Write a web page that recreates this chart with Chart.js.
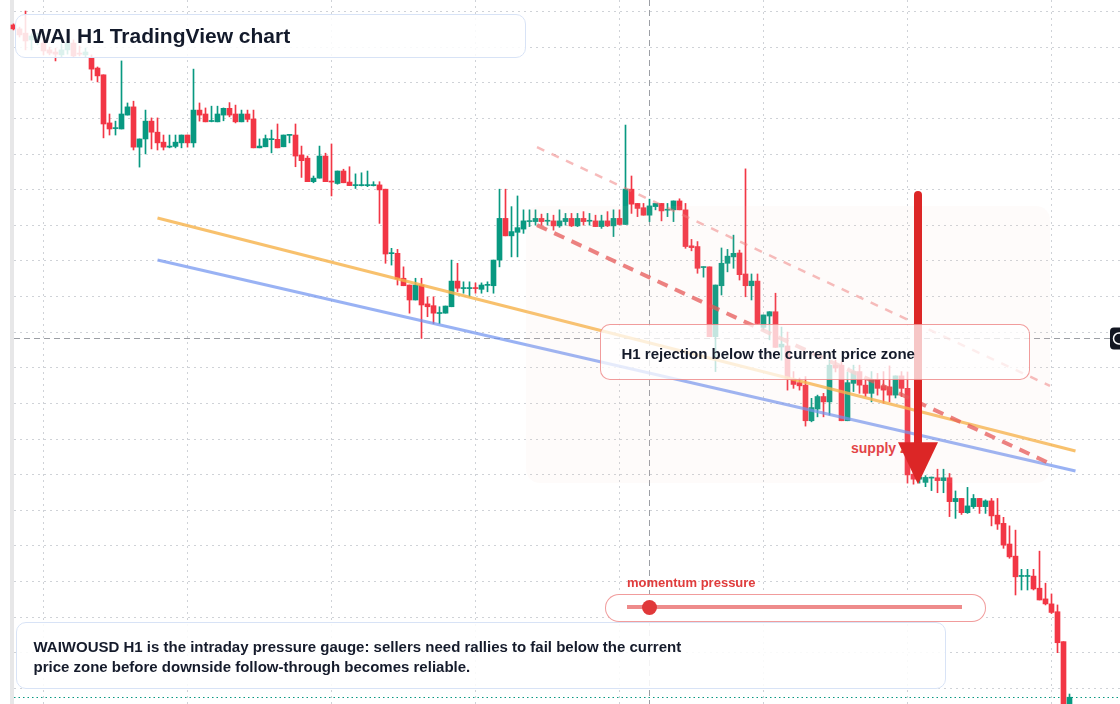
<!DOCTYPE html>
<html>
<head>
<meta charset="utf-8">
<title>WAI H1 TradingView chart</title>
<script src="https://cdn.jsdelivr.net/npm/chart.js@4.4.1/dist/chart.umd.min.js"></script>
<style>
  html, body { margin: 0; padding: 0; background: #fff; }
  #stage { position: relative; width: 1120px; height: 704px; overflow: hidden; font-family: "Liberation Sans", Arial, Helvetica, sans-serif; }
  #chart { position: absolute; left: 0; top: 0; }
  .edge { position: absolute; left: 10px; top: 0; width: 4px; height: 704px; background: #e7e7e8; }
  .supply { position: absolute; left: 851px; top: 440px; font-size: 14px; line-height: 16px; font-weight: 700; color: #e23b3f; white-space: nowrap; }
  .panel { position: absolute; box-sizing: border-box; border-radius: 10px; white-space: nowrap; }
  .title { left: 15px; top: 14px; width: 511px; height: 44px; padding: 8.5px 0 0 15.5px; background: rgba(255,255,255,0.86); border: 1.5px solid #d8e3f6; font-size: 21px; line-height: 24px; font-weight: 700; color: #131a2b; }
  .callout { left: 600px; top: 324px; width: 430px; height: 56px; padding: 20px 0 0 20.5px; background: rgba(255,255,255,0.74); border: 1.5px solid rgba(232,90,90,0.6); font-size: 15px; line-height: 17px; font-weight: 700; color: #151b2b; }
  .note { left: 16px; top: 622px; width: 930px; height: 67px; padding: 13.5px 0 0 16.5px; background: rgba(255,255,255,0.88); border: 1.5px solid #d8e3f6; font-size: 15px; line-height: 20px; font-weight: 700; color: #151b2b; }
  .gauge-label { position: absolute; left: 627px; top: 574.5px; font-size: 13px; line-height: 15px; font-weight: 700; color: #e03c3c; }
  .gauge { left: 605px; top: 594px; width: 381px; height: 28px; background: #fff; border: 1.5px solid rgba(232,90,90,0.6); border-radius: 14px; }
  .gauge-track { position: absolute; left: 20.5px; top: 10px; width: 335px; height: 4px; background: #ee8b8b; }
  .gauge-dot { position: absolute; top: -5.5px; width: 15px; height: 15px; margin-left: -7.5px; border-radius: 50%; background: #e0383a; }
</style>
</head>
<body>
<div id="stage">
  <div class="edge"></div>
  <div class="supply">supply zone</div>
  <canvas id="chart" width="1120" height="704"></canvas>
  <div class="panel title">WAI H1 TradingView chart</div>
  <div class="panel callout">H1 rejection below the current price zone</div>
  <div class="gauge-label">momentum pressure</div>
  <div class="panel gauge"><div class="gauge-track"><div class="gauge-dot" id="dot"></div></div></div>
  <div class="panel note">WAIWOUSD H1 is the intraday pressure gauge: sellers need rallies to fail below the current<br>price zone before downside follow-through becomes reliable.</div>
</div>
<script>
// hourly candles, oldest first
const opens = [
  38.61, 38.50, 38.38, 38.19, 38.24, 38.10, 37.91, 37.85, 37.77, 37.91,
  38.10, 37.82, 37.77, 37.68, 37.40, 37.21, 35.86, 35.70, 35.69, 36.08,
  36.31, 35.18, 35.41, 35.91, 35.60, 35.32, 35.18, 35.20, 35.30, 35.52,
  35.30, 36.22, 36.11, 35.90, 35.89, 36.08, 36.27, 36.11, 35.89, 36.11,
  35.97, 35.16, 35.19, 35.39, 35.40, 35.19, 35.51, 35.52, 34.96, 34.87,
  34.21, 34.31, 34.93, 34.22, 34.16, 34.51, 34.20, 34.10, 34.10, 34.10,
  34.10, 34.12, 34.00, 32.19, 32.20, 31.50, 31.31, 30.89, 31.31, 30.78,
  30.73, 30.51, 30.52, 30.70, 31.42, 31.21, 31.21, 31.23, 31.19, 31.30,
  31.29, 32.01, 33.18, 32.69, 32.79, 32.88, 33.09, 33.09, 33.18, 33.10,
  33.11, 32.97, 33.09, 33.18, 32.97, 33.18, 33.10, 33.11, 32.95, 33.11,
  32.97, 33.18, 33.01, 34.00, 33.60, 33.48, 33.27, 33.51, 33.60, 33.41,
  33.42, 33.67, 33.42, 32.41, 32.39, 31.80, 31.82, 29.86, 31.29, 31.92,
  32.10, 32.21, 31.62, 31.29, 31.42, 30.12, 30.44, 30.56, 29.57, 29.60,
  28.67, 28.57, 28.50, 27.50, 27.83, 28.18, 28.03, 29.06, 29.06, 27.50,
  28.55, 28.88, 28.50, 28.27, 28.66, 28.48, 28.45, 28.22, 28.76, 28.41,
  26.00, 25.86, 25.77, 25.89, 25.90, 25.82, 25.90, 25.23, 25.32, 24.92,
  25.09, 25.32, 25.09, 25.25, 24.85, 24.62, 24.04, 23.70, 23.13, 23.13,
  23.14, 22.80, 22.50, 22.36, 22.14, 21.30, 19.49
];
const highs = [
  38.64, 38.55, 39.00, 38.36, 38.38, 38.19, 37.99, 37.96, 38.08, 38.19,
  38.19, 38.02, 37.96, 37.77, 37.43, 37.21, 36.11, 35.91, 37.60, 36.42,
  36.47, 35.41, 36.22, 36.00, 36.00, 35.52, 35.52, 35.52, 35.52, 35.52,
  37.37, 36.42, 36.28, 36.33, 36.33, 36.28, 36.43, 36.36, 36.22, 36.22,
  36.22, 35.41, 35.52, 35.66, 35.83, 35.52, 35.52, 35.83, 35.21, 34.93,
  34.37, 35.21, 35.01, 35.27, 34.51, 34.56, 34.63, 34.43, 34.46, 34.51,
  34.21, 34.21, 34.00, 32.34, 32.31, 31.82, 31.31, 31.50, 31.50, 30.98,
  30.98, 30.70, 30.72, 32.01, 31.92, 31.40, 31.40, 31.37, 31.37, 31.40,
  32.01, 34.00, 34.00, 33.51, 33.81, 33.42, 33.42, 33.42, 33.30, 33.32,
  33.27, 33.42, 33.32, 33.32, 33.32, 33.37, 33.32, 33.27, 33.27, 33.37,
  33.42, 33.42, 35.80, 34.37, 33.60, 33.60, 33.72, 33.60, 33.60, 33.60,
  33.67, 33.73, 33.60, 32.59, 32.53, 31.82, 31.82, 31.31, 32.35, 32.31,
  32.71, 32.29, 34.57, 31.62, 31.62, 30.47, 30.56, 31.08, 30.13, 29.99,
  28.88, 28.70, 28.74, 28.13, 28.22, 28.27, 29.20, 29.20, 29.15, 28.87,
  29.06, 29.06, 28.64, 28.88, 28.83, 28.88, 29.04, 28.76, 28.88, 28.87,
  26.12, 26.06, 25.96, 25.92, 26.14, 26.14, 26.02, 25.53, 25.32, 25.63,
  25.43, 25.32, 25.28, 25.32, 25.32, 24.79, 24.55, 24.43, 23.33, 23.33,
  23.33, 23.84, 22.94, 22.64, 22.33, 21.30, 19.83
];
const lows = [
  38.47, 38.27, 37.91, 37.91, 38.05, 37.77, 37.77, 37.60, 37.71, 37.79,
  37.71, 37.74, 37.71, 37.06, 37.01, 35.44, 35.52, 35.52, 35.69, 36.08,
  35.10, 34.62, 34.99, 35.13, 35.10, 35.10, 35.16, 35.16, 35.16, 35.18,
  35.18, 35.91, 35.89, 35.89, 35.89, 35.92, 36.03, 35.86, 35.89, 35.89,
  35.16, 35.16, 35.19, 35.02, 35.16, 35.19, 35.30, 34.63, 34.33, 34.21,
  34.18, 34.31, 34.21, 33.81, 34.14, 34.18, 34.10, 34.02, 34.09, 34.07,
  34.09, 33.04, 31.92, 31.87, 31.31, 31.29, 30.52, 30.89, 29.81, 30.42,
  30.23, 30.23, 30.52, 30.70, 31.12, 31.08, 30.98, 31.08, 31.08, 31.12,
  31.08, 31.82, 32.69, 32.10, 32.10, 32.76, 32.95, 32.99, 32.99, 32.99,
  32.85, 32.93, 32.99, 32.95, 32.95, 32.99, 32.99, 32.95, 32.90, 32.95,
  32.67, 32.99, 33.01, 33.32, 33.23, 33.27, 33.09, 33.42, 33.11, 33.23,
  33.09, 33.42, 32.34, 32.27, 31.64, 31.53, 29.86, 28.88, 31.03, 31.68,
  31.78, 31.45, 30.98, 30.89, 30.23, 30.05, 29.77, 29.56, 29.20, 28.36,
  28.41, 28.36, 27.35, 27.47, 27.61, 27.61, 27.66, 28.87, 27.50, 27.50,
  28.32, 28.27, 28.18, 28.03, 28.22, 27.99, 28.03, 28.14, 28.18, 25.75,
  25.72, 25.75, 25.65, 25.54, 25.48, 25.48, 24.81, 24.76, 24.87, 24.90,
  25.04, 24.90, 24.90, 24.55, 24.45, 23.92, 23.64, 22.61, 22.75, 22.75,
  22.75, 22.47, 22.33, 22.09, 20.99, 19.49, 19.49
];
const closes = [
  38.50, 38.33, 38.16, 38.30, 38.30, 37.88, 37.82, 37.79, 37.91, 38.10,
  37.74, 37.79, 37.85, 37.37, 37.18, 35.83, 35.69, 35.72, 36.11, 36.31,
  35.18, 35.41, 35.91, 35.60, 35.30, 35.18, 35.21, 35.32, 35.52, 35.30,
  36.22, 36.08, 35.89, 35.91, 36.11, 36.27, 36.08, 35.89, 36.11, 35.96,
  35.16, 35.21, 35.42, 35.41, 35.16, 35.52, 35.52, 34.93, 34.80, 34.21,
  34.31, 34.93, 34.21, 34.20, 34.51, 34.18, 34.10, 34.12, 34.12, 34.12,
  34.12, 33.98, 32.18, 32.21, 31.48, 31.29, 30.89, 31.31, 30.75, 30.70,
  30.52, 30.52, 30.72, 31.42, 31.22, 31.23, 31.23, 31.21, 31.31, 31.31,
  32.01, 33.18, 32.69, 32.81, 32.92, 33.11, 33.11, 33.18, 33.09, 33.11,
  32.97, 33.11, 33.18, 32.97, 33.18, 33.09, 33.11, 32.95, 33.11, 32.97,
  33.18, 33.01, 34.00, 33.58, 33.46, 33.27, 33.53, 33.60, 33.39, 33.42,
  33.67, 33.42, 32.39, 32.36, 31.78, 31.82, 29.86, 31.31, 31.92, 32.12,
  32.20, 31.60, 31.29, 31.42, 30.23, 30.47, 30.56, 29.56, 29.65, 28.70,
  28.52, 28.48, 27.50, 27.87, 28.18, 28.03, 29.06, 28.98, 27.50, 28.57,
  28.88, 28.50, 28.27, 28.66, 28.41, 28.36, 28.22, 28.76, 28.41, 25.98,
  25.86, 25.92, 25.91, 25.90, 25.82, 25.90, 25.23, 25.32, 24.92, 25.11,
  25.32, 25.09, 25.25, 24.83, 24.60, 24.01, 23.68, 23.12, 23.14, 23.14,
  22.78, 22.47, 22.36, 22.12, 21.27, 19.49, 19.74
];

// price grid levels and daily separators (bar index)
const gridPrices = [20, 21, 22, 23, 24, 25, 26, 27, 28, 29, 30, 31, 32, 33, 34, 35, 36, 37, 38, 39];
const dayTicks = [5, 29, 53, 77, 101, 125, 149, 173];

// drawn lines: [bar index, price]
const trendOrange = [[24, 33.19], [177, 26.65]];
const trendBlue = [[24, 32.01], [177, 26.09]];
const rejectionDash = [[87.25, 32.99], [173.25, 26.26]];
const upperDash = [[87.25, 35.18], [172.75, 28.48]];

const crossBar = 106;
const crossPrice = 29.82;
const zone = { from: 85.42, to: 172.75, top: 33.53, bottom: 25.75 };
const arrow = { bar: 150.75, from: 33.84, head: 26.90, to: 25.72 };
const momentumLevel = 0.07;

const UP = '#089981';
const DOWN = '#f23645';
const idx = opens.map((_, i) => i);
const candleColor = idx.map(i => closes[i] >= opens[i] ? UP : DOWN);
const pts = arr => arr.map(([x, y]) => ({ x, y }));

document.getElementById('dot').style.left = (momentumLevel * 100) + '%';

const overlay = {
  id: 'overlay',
  beforeDatasetsDraw(chart) {
    const { ctx, scales: { x, y } } = chart;
    const W = chart.width, H = chart.height;
    ctx.save();
    ctx.lineWidth = 1;
    ctx.strokeStyle = '#cfd2d7';
    ctx.setLineDash([2, 4]);
    gridPrices.forEach(p => {
      const py = Math.round(y.getPixelForValue(p)) + 0.5;
      ctx.beginPath(); ctx.moveTo(14, py); ctx.lineTo(W, py); ctx.stroke();
    });
    dayTicks.forEach(t => {
      const px = Math.floor(x.getPixelForValue(t)) + 0.5;
      ctx.beginPath(); ctx.moveTo(px, 0); ctx.lineTo(px, H); ctx.stroke();
    });

    // crosshair
    ctx.strokeStyle = '#9c9fa5';
    ctx.setLineDash([6, 4]);
    const cx = Math.floor(x.getPixelForValue(crossBar)) + 0.5;
    const cy = Math.round(y.getPixelForValue(crossPrice)) + 0.5;
    ctx.beginPath(); ctx.moveTo(cx, 0); ctx.lineTo(cx, H); ctx.stroke();
    ctx.beginPath(); ctx.moveTo(14, cy); ctx.lineTo(1110, cy); ctx.stroke();

    // last price line
    const ly = Math.round(y.getPixelForValue(closes[closes.length - 1])) + 0.5;
    ctx.strokeStyle = UP;
    ctx.setLineDash([1.5, 3]);
    ctx.beginPath(); ctx.moveTo(14, ly); ctx.lineTo(W, ly); ctx.stroke();

    // price tag at the right edge
    ctx.setLineDash([]);
    ctx.fillStyle = '#131722';
    ctx.beginPath(); ctx.roundRect(1110, cy - 11, 20, 22, 4); ctx.fill();
    ctx.strokeStyle = '#fff';
    ctx.lineWidth = 1.5;
    ctx.beginPath(); ctx.arc(1119, cy, 5.5, 0, Math.PI * 2); ctx.stroke();
    ctx.restore();
  },
  afterDatasetsDraw(chart) {
    const { ctx, scales: { x, y } } = chart;
    ctx.save();
    const zx0 = x.getPixelForValue(zone.from), zx1 = x.getPixelForValue(zone.to);
    const zy0 = y.getPixelForValue(zone.top), zy1 = y.getPixelForValue(zone.bottom);
    ctx.fillStyle = 'rgba(245,200,180,0.07)';
    ctx.beginPath(); ctx.roundRect(zx0, zy0, zx1 - zx0, zy1 - zy0, 14); ctx.fill();

    const ax = x.getPixelForValue(arrow.bar);
    const aTop = y.getPixelForValue(arrow.from);
    const aBase = y.getPixelForValue(arrow.head);
    const aTip = y.getPixelForValue(arrow.to);
    ctx.strokeStyle = '#dc2626';
    ctx.lineWidth = 8;
    ctx.lineCap = 'round';
    ctx.beginPath(); ctx.moveTo(ax, aTop); ctx.lineTo(ax, aBase + 2); ctx.stroke();
    ctx.fillStyle = '#dc2626';
    ctx.beginPath();
    ctx.moveTo(ax - 20, aBase); ctx.lineTo(ax + 20, aBase); ctx.lineTo(ax, aTip);
    ctx.closePath(); ctx.fill();
    ctx.restore();
  }
};

new Chart(document.getElementById('chart'), {
  type: 'bar',
  data: {
    datasets: [
      { type: 'line', data: pts(upperDash), borderColor: 'rgba(240,120,120,0.5)', borderWidth: 2.5, borderDash: [8, 8], pointRadius: 0, fill: false, order: 0 },
      { type: 'line', data: pts(rejectionDash), borderColor: 'rgba(230,80,80,0.75)', borderWidth: 4, borderDash: [11, 8], pointRadius: 0, fill: false, order: 1 },
      { type: 'line', data: pts(trendOrange), borderColor: 'rgba(246,178,72,0.8)', borderWidth: 3, pointRadius: 0, fill: false, order: 2 },
      { type: 'line', data: pts(trendBlue), borderColor: 'rgba(110,145,240,0.7)', borderWidth: 3, pointRadius: 0, fill: false, order: 3 },
      { data: idx.map(i => ({ x: i, y: [opens[i], closes[i]] })), backgroundColor: candleColor, barThickness: 5, minBarLength: 1, grouped: false, order: 5 },
      { data: idx.map(i => ({ x: i, y: [lows[i], highs[i]] })), backgroundColor: candleColor, barThickness: 1, grouped: false, order: 6 }
    ]
  },
  options: {
    responsive: false,
    animation: false,
    events: [],
    layout: { padding: 0 },
    plugins: { legend: { display: false }, tooltip: { enabled: false } },
    scales: {
      x: { type: 'linear', display: false, offset: false, min: -2.25, max: 184.4167 },
      y: { type: 'linear', display: false, min: 19.55, max: 39.31 }
    }
  },
  plugins: [overlay]
});
</script>
</body>
</html>
